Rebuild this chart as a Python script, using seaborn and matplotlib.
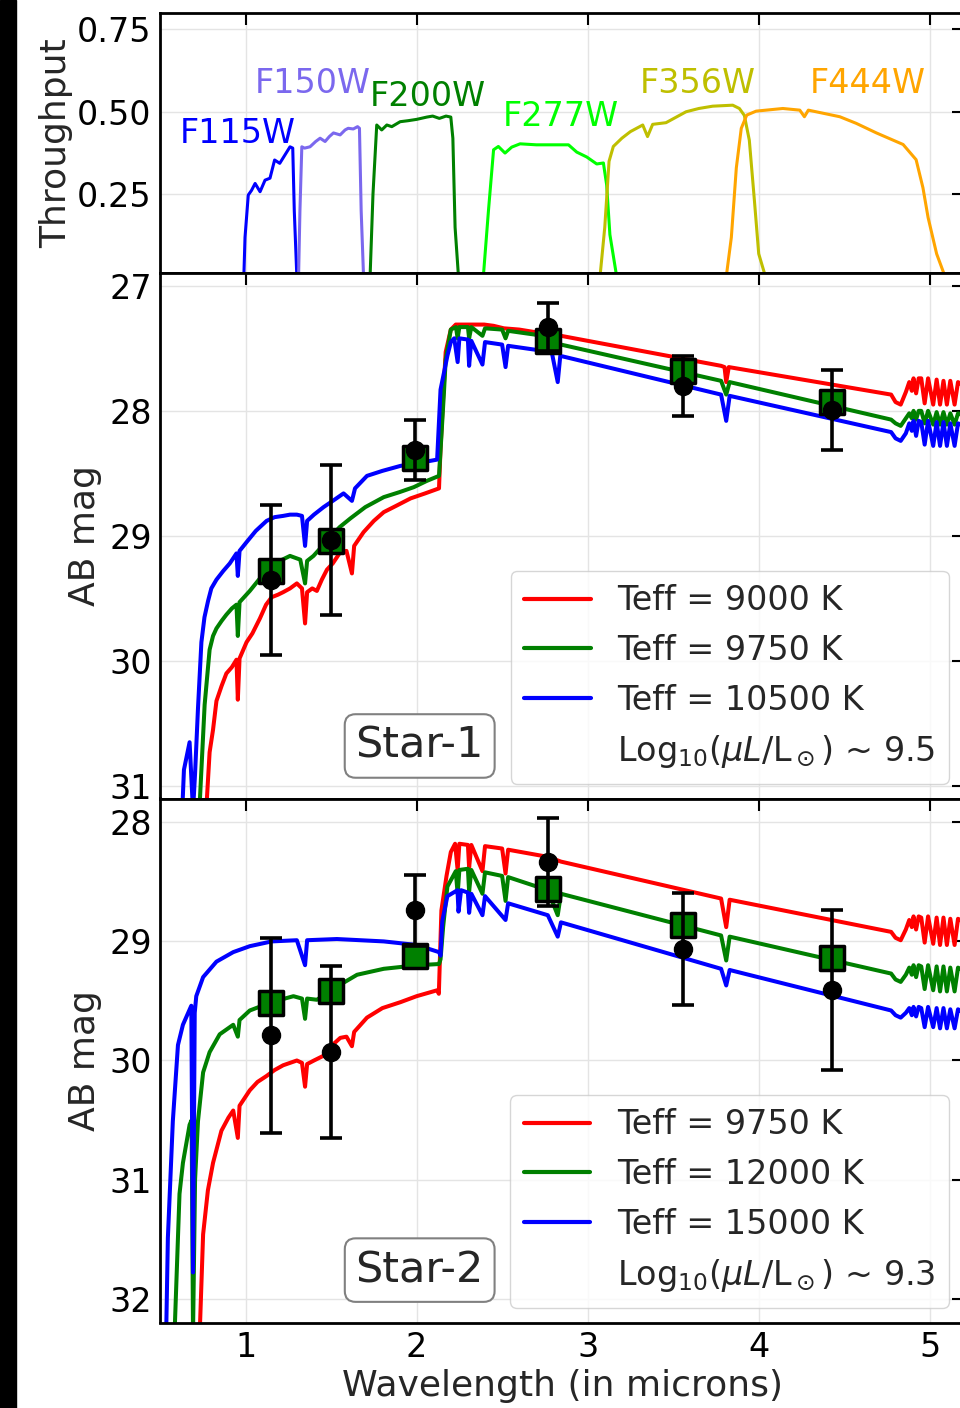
import matplotlib
matplotlib.use("Agg")
import matplotlib.pyplot as plt
import seaborn as sns
import pandas as pd
from matplotlib.lines import Line2D
from matplotlib.patches import Rectangle

# ---------------- data ----------------
filter_names = ["F115W", "F150W", "F200W", "F277W", "F356W", "F444W"]
filter_colors = ["#0000FF", "#7B68EE", "#008000", "#00FF00", "#BFBF00", "#FFA500"]
label_x = [0.617, 1.056, 1.728, 2.504, 3.307, 4.30]
label_y = [0.435, 0.586, 0.545, 0.485, 0.586, 0.586]

f115_wl = [0.99, 0.997, 1.016, 1.035, 1.056, 1.085, 1.114, 1.143, 1.17, 1.20, 1.23, 1.26, 1.276, 1.285, 1.30]
f115_tp = [0.0, 0.12, 0.248, 0.262, 0.283, 0.258, 0.293, 0.299, 0.354, 0.344, 0.369, 0.394, 0.39, 0.20, 0.0]
f150_wl = [1.31, 1.318, 1.329, 1.345, 1.377, 1.41, 1.436, 1.465, 1.49, 1.514, 1.553, 1.582, 1.60, 1.63, 1.655, 1.666, 1.676, 1.69]
f150_tp = [0.0, 0.2, 0.394, 0.39, 0.394, 0.41, 0.42, 0.41, 0.425, 0.436, 0.43, 0.445, 0.45, 0.448, 0.455, 0.45, 0.2, 0.0]
f200_wl = [1.728, 1.745, 1.767, 1.796, 1.826, 1.855, 1.904, 1.95, 2.0, 2.06, 2.094, 2.133, 2.172, 2.20, 2.212, 2.225, 2.245]
f200_tp = [0.0, 0.25, 0.46, 0.445, 0.46, 0.455, 0.47, 0.473, 0.477, 0.484, 0.487, 0.48, 0.487, 0.484, 0.42, 0.15, 0.0]
f277_wl = [2.39, 2.42, 2.45, 2.478, 2.517, 2.556, 2.605, 2.70, 2.761, 2.888, 2.936, 2.995, 3.053, 3.092, 3.111, 3.13, 3.17]
f277_tp = [0.0, 0.20, 0.385, 0.395, 0.375, 0.393, 0.403, 0.40, 0.40, 0.40, 0.378, 0.363, 0.342, 0.345, 0.279, 0.128, 0.0]
f356_wl = [3.072, 3.10, 3.125, 3.15, 3.20, 3.25, 3.322, 3.35, 3.38, 3.458, 3.575, 3.65, 3.731, 3.848, 3.887, 3.916, 3.945, 3.975, 4.0, 4.04]
f356_tp = [0.0, 0.15, 0.35, 0.395, 0.42, 0.44, 0.46, 0.425, 0.462, 0.467, 0.50, 0.51, 0.517, 0.52, 0.51, 0.489, 0.414, 0.23, 0.07, 0.0]
f444_wl = [3.81, 3.84, 3.869, 3.898, 3.93, 3.985, 4.141, 4.24, 4.267, 4.29, 4.474, 4.57, 4.688, 4.844, 4.92, 4.96, 4.99, 5.04, 5.09]
f444_tp = [0.0, 0.12, 0.33, 0.45, 0.49, 0.502, 0.51, 0.505, 0.485, 0.505, 0.485, 0.465, 0.436, 0.401, 0.355, 0.27, 0.18, 0.07, 0.0]

# Star-1 model spectra (wavelength in microns, AB mag)
s1_red_wl = [0.77, 0.79, 0.81, 0.83, 0.86, 0.888, 0.92, 0.947, 0.955, 0.965, 1.006, 1.04, 1.084, 1.12, 1.153, 1.19, 1.22, 1.26, 1.30, 1.33, 1.348, 1.36, 1.39, 1.417, 1.446, 1.476, 1.51, 1.554, 1.59, 1.622, 1.635, 1.69, 1.75, 1.808, 1.88, 1.965, 2.05, 2.131, 2.14, 2.155, 2.17, 2.20, 2.229, 2.26, 2.30, 2.395, 2.45, 2.51, 2.60, 2.69, 2.79, 2.844, 3.78, 3.80, 3.81, 3.825, 4.774, 4.80, 4.83, 4.86, 4.88, 4.895, 4.905, 4.92, 4.935, 4.95, 4.97, 4.99, 5.02, 5.04, 5.06, 5.08, 5.10, 5.12, 5.145, 5.165, 5.20]
s1_red_mag = [31.2, 30.73, 30.55, 30.32, 30.2, 30.10, 30.05, 29.99, 30.31, 29.98, 29.85, 29.78, 29.66, 29.55, 29.49, 29.47, 29.45, 29.42, 29.38, 29.42, 29.70, 29.45, 29.42, 29.44, 29.35, 29.27, 29.22, 29.13, 29.12, 29.30, 29.08, 28.97, 28.88, 28.81, 28.76, 28.70, 28.66, 28.62, 28.30, 27.90, 27.53, 27.35, 27.31, 27.31, 27.31, 27.31, 27.32, 27.34, 27.35, 27.37, 27.39, 27.40, 27.64, 27.65, 27.77, 27.65, 27.87, 27.93, 27.95, 27.85, 27.77, 27.84, 27.74, 27.86, 27.74, 27.74, 27.94, 27.74, 27.95, 27.75, 27.95, 27.76, 27.95, 27.76, 27.95, 27.77, 27.80]
s1_green_wl = [0.73, 0.761, 0.79, 0.81, 0.83, 0.86, 0.888, 0.92, 0.947, 0.955, 0.965, 1.025, 1.09, 1.153, 1.20, 1.26, 1.30, 1.32, 1.348, 1.36, 1.397, 1.45, 1.495, 1.55, 1.613, 1.70, 1.808, 1.90, 1.984, 2.06, 2.131, 2.145, 2.16, 2.17, 2.20, 2.23, 2.24, 2.25, 2.30, 2.307, 2.32, 2.385, 2.40, 2.50, 2.52, 2.535, 2.69, 2.79, 2.844, 3.78, 3.81, 3.83, 4.774, 4.80, 4.83, 4.86, 4.88, 4.895, 4.905, 4.92, 4.935, 4.95, 4.97, 4.99, 5.02, 5.04, 5.06, 5.08, 5.10, 5.12, 5.145, 5.165, 5.20]
s1_green_mag = [31.2, 30.35, 29.91, 29.80, 29.74, 29.68, 29.63, 29.58, 29.55, 29.80, 29.53, 29.44, 29.33, 29.26, 29.20, 29.16, 29.18, 29.19, 29.38, 29.20, 29.16, 29.08, 29.01, 28.93, 28.86, 28.77, 28.69, 28.65, 28.61, 28.56, 28.52, 28.20, 27.85, 27.59, 27.35, 27.33, 27.42, 27.33, 27.33, 27.42, 27.33, 27.40, 27.34, 27.35, 27.42, 27.36, 27.39, 27.43, 27.47, 27.76, 27.87, 27.77, 28.07, 28.10, 28.12, 28.06, 28.02, 28.06, 28.00, 28.07, 28.00, 28.00, 28.10, 28.00, 28.11, 28.01, 28.11, 28.01, 28.11, 28.02, 28.11, 28.02, 28.04]
s1_blue_wl = [0.63, 0.64, 0.673, 0.693, 0.705, 0.722, 0.742, 0.76, 0.781, 0.80, 0.83, 0.87, 0.908, 0.947, 0.955, 0.965, 1.006, 1.06, 1.123, 1.17, 1.22, 1.26, 1.30, 1.33, 1.348, 1.36, 1.40, 1.456, 1.51, 1.573, 1.622, 1.64, 1.71, 1.80, 1.906, 2.0, 2.12, 2.14, 2.18, 2.20, 2.22, 2.24, 2.25, 2.30, 2.307, 2.32, 2.385, 2.40, 2.50, 2.52, 2.535, 2.79, 2.825, 2.84, 3.78, 3.81, 3.83, 4.774, 4.80, 4.83, 4.86, 4.88, 4.895, 4.905, 4.92, 4.935, 4.95, 4.97, 4.99, 5.02, 5.04, 5.06, 5.08, 5.10, 5.12, 5.145, 5.165, 5.20]
s1_blue_mag = [31.2, 30.87, 30.65, 31.2, 30.9, 30.38, 29.85, 29.65, 29.52, 29.42, 29.35, 29.28, 29.22, 29.14, 29.32, 29.12, 29.05, 28.96, 28.88, 28.85, 28.84, 28.83, 28.83, 28.84, 29.08, 28.88, 28.83, 28.77, 28.72, 28.66, 28.72, 28.62, 28.52, 28.48, 28.44, 28.42, 28.39, 27.83, 27.56, 27.45, 27.42, 27.61, 27.42, 27.43, 27.64, 27.44, 27.63, 27.45, 27.47, 27.65, 27.48, 27.53, 27.77, 27.56, 27.87, 28.08, 27.88, 28.17, 28.22, 28.24, 28.18, 28.10, 28.16, 28.08, 28.20, 28.08, 28.09, 28.27, 28.08, 28.28, 28.09, 28.28, 28.09, 28.28, 28.10, 28.28, 28.10, 28.12]

# Star-2 model spectra
s2_red_wl = [0.732, 0.752, 0.78, 0.81, 0.859, 0.90, 0.928, 0.955, 0.965, 1.025, 1.07, 1.123, 1.17, 1.22, 1.26, 1.30, 1.33, 1.348, 1.36, 1.40, 1.456, 1.50, 1.554, 1.59, 1.622, 1.635, 1.71, 1.80, 1.906, 2.0, 2.121, 2.13, 2.145, 2.175, 2.20, 2.225, 2.24, 2.25, 2.30, 2.307, 2.32, 2.385, 2.40, 2.50, 2.52, 2.535, 2.767, 2.844, 3.78, 3.81, 3.83, 4.774, 4.80, 4.83, 4.86, 4.88, 4.895, 4.905, 4.92, 4.935, 4.95, 4.97, 4.99, 5.02, 5.04, 5.06, 5.08, 5.10, 5.12, 5.145, 5.165, 5.20]
s2_red_mag = [32.3, 31.46, 31.09, 30.86, 30.59, 30.48, 30.42, 30.65, 30.38, 30.25, 30.18, 30.13, 30.08, 30.04, 30.02, 30.00, 30.02, 30.22, 30.03, 30.00, 29.96, 29.88, 29.81, 29.80, 29.88, 29.76, 29.64, 29.56, 29.51, 29.46, 29.41, 29.44, 28.74, 28.45, 28.25, 28.18, 28.40, 28.18, 28.19, 28.38, 28.19, 28.41, 28.20, 28.22, 28.43, 28.23, 28.29, 28.33, 28.64, 28.88, 28.65, 28.92, 28.97, 28.99, 28.90, 28.82, 28.88, 28.79, 28.90, 28.79, 28.80, 29.01, 28.79, 29.02, 28.80, 29.03, 28.80, 29.03, 28.81, 29.03, 28.81, 28.84]
s2_green_wl = [0.585, 0.614, 0.634, 0.673, 0.685, 0.693, 0.705, 0.722, 0.752, 0.79, 0.849, 0.928, 0.955, 0.965, 1.025, 1.153, 1.28, 1.33, 1.348, 1.36, 1.417, 1.534, 1.652, 1.808, 2.004, 2.131, 2.14, 2.155, 2.18, 2.229, 2.24, 2.25, 2.30, 2.307, 2.32, 2.385, 2.40, 2.50, 2.52, 2.535, 2.767, 2.825, 2.844, 3.78, 3.81, 3.83, 4.774, 4.80, 4.83, 4.86, 4.88, 4.895, 4.905, 4.92, 4.935, 4.95, 4.97, 4.99, 5.02, 5.04, 5.06, 5.08, 5.10, 5.12, 5.145, 5.165, 5.20]
s2_green_mag = [32.3, 31.12, 30.86, 30.54, 30.50, 32.3, 31.0, 30.51, 30.10, 29.93, 29.78, 29.70, 29.80, 29.66, 29.58, 29.51, 29.46, 29.48, 29.65, 29.48, 29.49, 29.38, 29.28, 29.23, 29.20, 29.19, 29.15, 28.88, 28.54, 28.41, 28.60, 28.40, 28.39, 28.58, 28.40, 28.60, 28.42, 28.45, 28.66, 28.46, 28.57, 28.78, 28.60, 28.95, 29.16, 28.96, 29.27, 29.32, 29.34, 29.28, 29.22, 29.28, 29.20, 29.30, 29.20, 29.21, 29.40, 29.20, 29.41, 29.21, 29.42, 29.21, 29.42, 29.22, 29.42, 29.22, 29.25]
s2_blue_wl = [0.536, 0.546, 0.575, 0.605, 0.634, 0.683, 0.693, 0.703, 0.712, 0.752, 0.83, 0.928, 1.025, 1.153, 1.30, 1.348, 1.36, 1.534, 1.808, 2.0, 2.131, 2.14, 2.15, 2.18, 2.239, 2.245, 2.26, 2.30, 2.307, 2.32, 2.385, 2.40, 2.52, 2.535, 2.767, 2.825, 2.844, 3.78, 3.81, 3.83, 4.774, 4.80, 4.83, 4.86, 4.88, 4.895, 4.905, 4.92, 4.935, 4.95, 4.97, 4.99, 5.02, 5.04, 5.06, 5.08, 5.10, 5.12, 5.145, 5.165, 5.20]
s2_blue_mag = [32.3, 31.49, 30.51, 29.87, 29.70, 29.54, 31.78, 29.60, 29.46, 29.30, 29.17, 29.09, 29.04, 29.00, 28.99, 29.20, 28.99, 28.98, 29.00, 29.03, 29.09, 29.12, 28.83, 28.62, 28.57, 28.75, 28.57, 28.59, 28.76, 28.60, 28.78, 28.62, 28.82, 28.68, 28.78, 28.96, 28.84, 29.23, 29.37, 29.24, 29.58, 29.62, 29.64, 29.60, 29.56, 29.62, 29.55, 29.63, 29.55, 29.56, 29.72, 29.55, 29.72, 29.56, 29.73, 29.56, 29.73, 29.57, 29.73, 29.57, 29.60]

# photometry
phot_wl = [1.15, 1.50, 1.99, 2.77, 3.56, 4.43]
s1_obs = [29.35, 29.03, 28.31, 27.33, 27.80, 27.99]
s1_err = [0.60, 0.60, 0.24, 0.19, 0.24, 0.32]
s1_fit = [29.28, 29.04, 28.38, 27.44, 27.68, 27.93]
s2_obs = [29.79, 29.93, 28.74, 28.33, 29.06, 29.41]
s2_err = [0.82, 0.72, 0.30, 0.37, 0.47, 0.67]
s2_fit = [29.52, 29.42, 29.12, 28.56, 28.86, 29.14]

s1_labels = ["Teff = 9000 K", "Teff = 9750 K", "Teff = 10500 K"]
s1_extra = r"Log$_{10}$($\mu L$/L$_\odot$) ~ 9.5"
s2_labels = ["Teff = 9750 K", "Teff = 12000 K", "Teff = 15000 K"]
s2_extra = r"Log$_{10}$($\mu L$/L$_\odot$) ~ 9.3"
model_colors = ["#FF0000", "#008000", "#0000FF"]
x_ticks = [1, 2, 3, 4, 5]

# ---------------- style ----------------
sns.set_theme(style="white")
plt.rcParams["font.family"] = ["DejaVu Sans"]
plt.rcParams["mathtext.fontset"] = "dejavusans"
plt.rcParams["axes.linewidth"] = 2.0
plt.rcParams["axes.edgecolor"] = "black"

FS = 24
LFS = 26
fig = plt.figure(figsize=(9.6, 14.08), dpi=100)
fig.patches.append(Rectangle((0, 0), 16 / 960, 1, transform=fig.transFigure,
                             color="black", zorder=10))

L = 160 / 960
W = (964 - 160) / 960
ax0 = fig.add_axes([L, 1 - 273.3 / 1408, W, 260.6 / 1408])
ax1 = fig.add_axes([L, 1 - 798.5 / 1408, W, 525.2 / 1408])
ax2 = fig.add_axes([L, 1 - 1322.5 / 1408, W, 524.0 / 1408])


def style_axis(ax):
    ax.set_xlim(0.5, 5.2)
    ax.set_xticks(x_ticks)
    ax.grid(True, color="#e4e4e4", lw=1.0)
    ax.set_axisbelow(True)
    ax.tick_params(direction="in", top=True, right=True, length=8.5, width=1.5,
                   labelsize=FS, colors="black", pad=6)
    for s in ax.spines.values():
        s.set_linewidth(2.0)
        s.set_color("black")


# ---- throughput panel ----
filters = [(f115_wl, f115_tp), (f150_wl, f150_tp), (f200_wl, f200_tp),
           (f277_wl, f277_tp), (f356_wl, f356_tp), (f444_wl, f444_tp)]
for (wl, tp), c, name, lx, ly in zip(filters, filter_colors, filter_names, label_x, label_y):
    sns.lineplot(x=wl, y=tp, ax=ax0, color=c, lw=2.2, sort=False, estimator=None)
    ax0.text(lx, ly, name, color=c, fontsize=FS, ha="left", va="center")
style_axis(ax0)
ax0.set_ylim(0.011, 0.80)
ax0.set_yticks([0.25, 0.50, 0.75])
ax0.set_yticklabels(["0.25", "0.50", "0.75"])
ax0.set_xticklabels([])
ax0.set_ylabel("Throughput", fontsize=LFS, labelpad=3)


def star_panel(ax, spectra, labels, extra, obs, err, fit, ylim, yticks, name):
    for (wl, mag), c, lab in zip(spectra, model_colors, labels):
        sns.lineplot(x=wl, y=mag, ax=ax, color=c, lw=2.9, sort=False, estimator=None)
    sns.scatterplot(x=phot_wl, y=fit, ax=ax, marker="s", s=290, color="#008000",
                    edgecolor="black", linewidth=2.5, zorder=5)
    ax.errorbar(phot_wl, obs, yerr=err, fmt="o", color="black", ms=13,
                capsize=8, elinewidth=2.6, capthick=2.6, zorder=6)
    style_axis(ax)
    ax.set_ylim(*ylim)
    ax.set_yticks(yticks)
    ax.set_ylabel("AB mag", fontsize=LFS, labelpad=5)
    handles = [Line2D([], [], color=c, lw=3) for c in model_colors]
    handles.append(Line2D([], [], color="none"))
    leg = ax.legend(handles, labels + [extra], loc="lower right", fontsize=FS,
                    frameon=True, framealpha=0.8, edgecolor="#cccccc",
                    handlelength=2.0, borderpad=0.4, labelspacing=0.5,
                    borderaxespad=0.45)
    leg.get_frame().set_linewidth(1.0)
    ax.text(0.323, 0.10, name, transform=ax.transAxes, fontsize=31,
            ha="center", va="center", zorder=8,
            bbox=dict(boxstyle="round,pad=0.25", fc="white", ec="gray", lw=1.5))


star_panel(ax1, [(s1_red_wl, s1_red_mag), (s1_green_wl, s1_green_mag), (s1_blue_wl, s1_blue_mag)],
           s1_labels, s1_extra, s1_obs, s1_err, s1_fit, (31.1, 26.9), [27, 28, 29, 30, 31], "Star-1")
ax1.set_xticklabels([])

star_panel(ax2, [(s2_red_wl, s2_red_mag), (s2_green_wl, s2_green_mag), (s2_blue_wl, s2_blue_mag)],
           s2_labels, s2_extra, s2_obs, s2_err, s2_fit, (32.2, 27.8), [28, 29, 30, 31, 32], "Star-2")
ax2.set_xticklabels([str(t) for t in x_ticks])
ax2.set_xlabel("Wavelength (in microns)", fontsize=LFS, labelpad=4)

fig.savefig("out.png", dpi=100)
